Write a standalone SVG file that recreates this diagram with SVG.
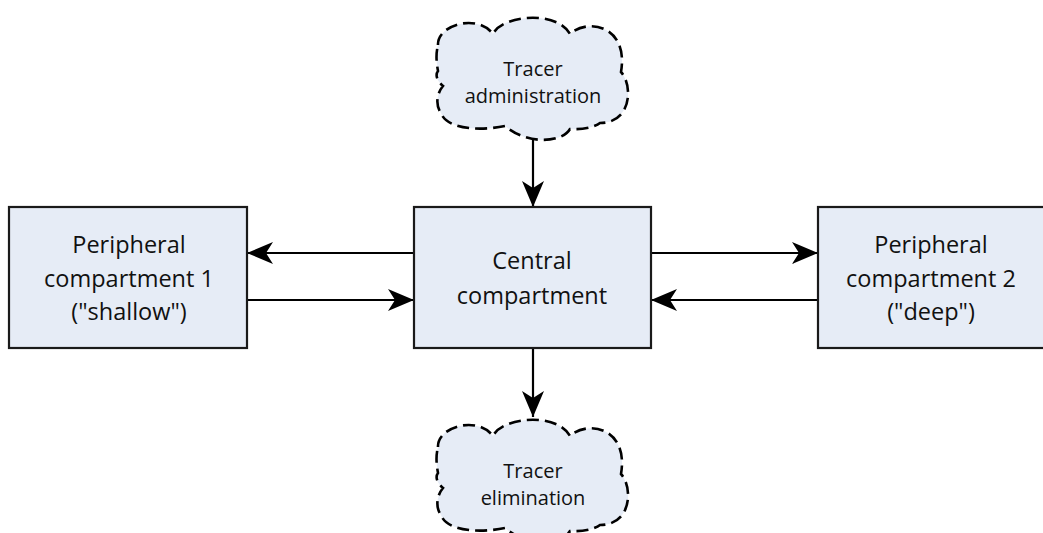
<svg xmlns="http://www.w3.org/2000/svg" width="1043" height="533" viewBox="0 0 1043 533">
<style>
.box{fill:#e6ecf6;stroke:#1a1a1a;stroke-width:2.2}
.cloud{fill:#e6ecf6;stroke:#000;stroke-width:2.6;stroke-dasharray:12 6}
.t{font-family:"Open Sans","Liberation Sans",sans-serif;fill:#111;text-anchor:middle}
.big{font-size:23.5px}
.small{font-size:20px}
.conn line{stroke:#000;stroke-width:2.2;marker-end:url(#ah)}
</style>
<defs>
<marker id="ah" markerUnits="userSpaceOnUse" markerWidth="28" markerHeight="24" refX="26" refY="11" orient="auto">
<path d="M0,0 L26,11 L0,22 L7,11 Z" fill="#000"/>
</marker>
<path id="cloudShape" d="M1,30 C0,10 40,-2 56,19 C65,0 120,-5 133,19 C150,3 192,10 184,57 C196,70 195,108 163,108 C158,112 145,115 133,114 C125,128 90,130 68,111 C45,116 10,115 4,98 C-2,90 0,78 6,71 C0,66 -2,60 1,56 C-1,45 -1,38 1,30 Z"/>
</defs>
<g class="conn">
<line x1="533" y1="138" x2="533" y2="207"/>
<line x1="414" y1="253" x2="247" y2="253"/>
<line x1="247" y1="300" x2="414" y2="300"/>
<line x1="651" y1="253" x2="818" y2="253"/>
<line x1="818" y1="300" x2="651" y2="300"/>
<line x1="533" y1="348" x2="533" y2="417"/>
</g>
<g id="admin">
<use href="#cloudShape" class="cloud" transform="translate(437,15)"/>
<text class="t small" x="533" y="76">Tracer</text>
<text class="t small" x="533" y="103">administration</text>
</g>
<g id="central">
<rect class="box" x="414" y="207" width="237" height="141"/>
<text class="t big" x="532" y="269">Central</text>
<text class="t big" x="532" y="304">compartment</text>
</g>
<g id="periph1">
<rect class="box" x="9" y="207" width="238" height="141"/>
<text class="t big" x="129" y="253">Peripheral</text>
<text class="t big" x="129" y="287">compartment 1</text>
<text class="t big" x="129" y="320">("shallow")</text>
</g>
<g id="periph2">
<rect class="box" x="818" y="207" width="238" height="141"/>
<text class="t big" x="931" y="253">Peripheral</text>
<text class="t big" x="931" y="287">compartment 2</text>
<text class="t big" x="931" y="320">("deep")</text>
</g>
<g id="elim">
<use href="#cloudShape" class="cloud" transform="translate(437,417)"/>
<text class="t small" x="533" y="478">Tracer</text>
<text class="t small" x="533" y="505">elimination</text>
</g>
</svg>
